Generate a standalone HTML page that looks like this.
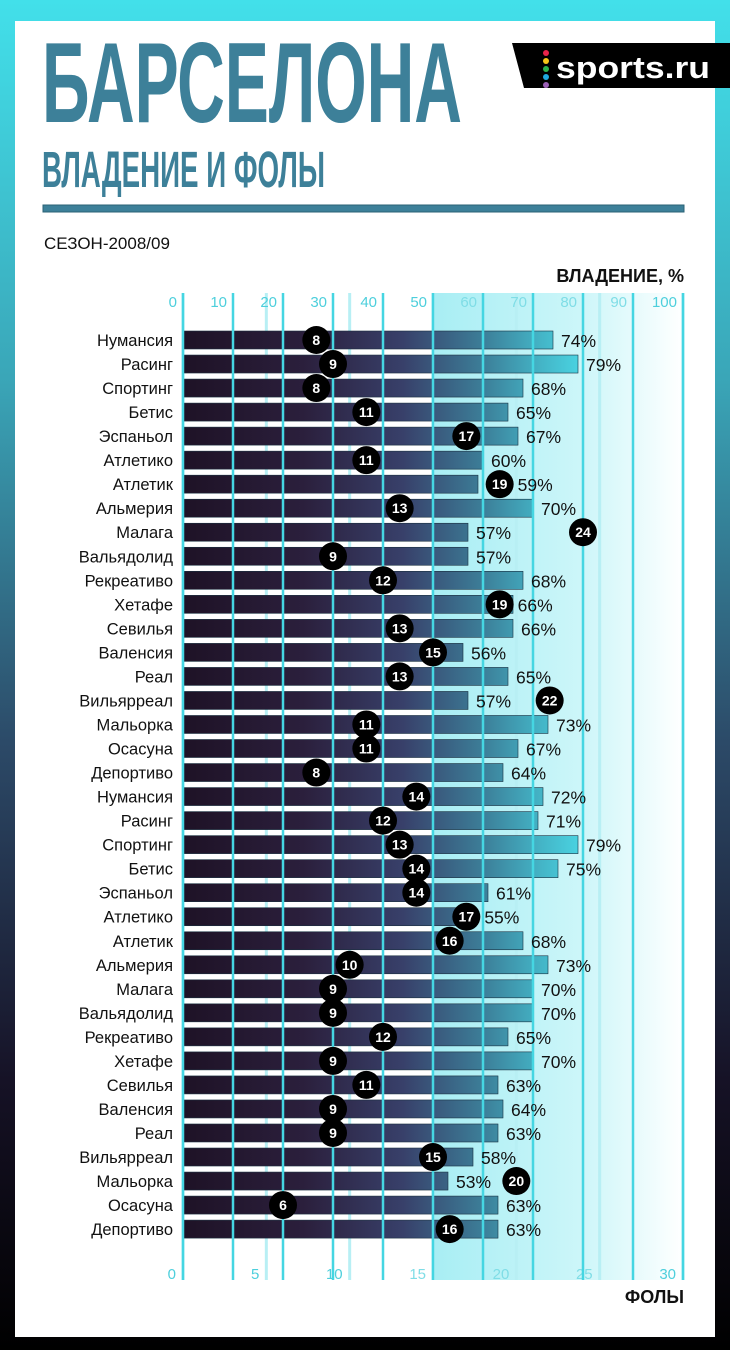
<!DOCTYPE html>
<html><head><meta charset="utf-8">
<style>
html,body{margin:0;padding:0}
body{width:730px;height:1350px;position:relative;overflow:hidden;background:linear-gradient(180deg,#42e0ea 0%,#3aa6b8 28%,#2c4a68 55%,#161226 80%,#000 100%);font-family:"Liberation Sans","DejaVu Sans",sans-serif}
#card{position:absolute;left:15px;top:21px;width:700px;height:1316px;background:#fff}
svg{position:absolute;left:0;top:0}
</style></head>
<body>
<div id="card"></div>
<svg id="chart" width="730" height="1350">
<defs>
<linearGradient id="barGrad" gradientUnits="userSpaceOnUse" x1="183" y1="0" x2="583" y2="0">
<stop offset="0" stop-color="#1e1226"/>
<stop offset="0.3" stop-color="#2b1f3c"/>
<stop offset="0.55" stop-color="#38406a"/>
<stop offset="0.75" stop-color="#3c7e98"/>
<stop offset="0.9" stop-color="#44b6c8"/>
<stop offset="1" stop-color="#4ad6e4"/>
</linearGradient>
<linearGradient id="shade" x1="0" y1="0" x2="1" y2="0">
<stop offset="0" stop-color="#a8eef4"/>
<stop offset="0.6" stop-color="#cdf6f9"/>
<stop offset="1" stop-color="#ffffff"/>
</linearGradient>
</defs>
<g>
<text x="42" y="122" font-size="114" font-weight="bold" fill="#3d8099" textLength="420" lengthAdjust="spacingAndGlyphs">БАРСЕЛОНА</text>
<text x="42" y="187" font-size="51" font-weight="bold" fill="#3d8099" textLength="283" lengthAdjust="spacingAndGlyphs">ВЛАДЕНИЕ И ФОЛЫ</text>
<rect x="43" y="205" width="641" height="7" fill="#3d8099" stroke="#2a6275" stroke-width="1"/>
<text x="44" y="249" font-size="17" fill="#111">СЕЗОН-2008/09</text>
<g>
<polygon points="512,43 730,43 730,88 524,88" fill="#000"/>
<circle cx="546" cy="53" r="3" fill="#e8234a"/>
<circle cx="546" cy="61" r="3" fill="#f5c518"/>
<circle cx="546" cy="69" r="3" fill="#2bb24c"/>
<circle cx="546" cy="77" r="3" fill="#1fa8e0"/>
<circle cx="546" cy="85" r="3" fill="#9a5fb5"/>
<text x="556" y="78" font-size="31" font-weight="bold" fill="#fff" textLength="154" lengthAdjust="spacingAndGlyphs">sports.ru</text>
</g>
</g>
<rect x="433" y="293" width="250" height="987" fill="url(#shade)"/>
<g id="grid"></g>
<g id="bars"></g>
<g id="vlines"></g>
<g id="marks"></g>
<text x="684" y="282" font-size="18" font-weight="bold" text-anchor="end" fill="#111">ВЛАДЕНИЕ, %</text>
<text x="684" y="1303" font-size="18" font-weight="bold" text-anchor="end" fill="#111">ФОЛЫ</text>
</svg>
<script>
const teams=["Нумансия","Расинг","Спортинг","Бетис","Эспаньол","Атлетико","Атлетик","Альмерия","Малага","Вальядолид","Рекреативо","Хетафе","Севилья","Валенсия","Реал","Вильярреал","Мальорка","Осасуна","Депортиво","Нумансия","Расинг","Спортинг","Бетис","Эспаньол","Атлетико","Атлетик","Альмерия","Малага","Вальядолид","Рекреативо","Хетафе","Севилья","Валенсия","Реал","Вильярреал","Мальорка","Осасуна","Депортиво"];
const possession=[74,79,68,65,67,60,59,70,57,57,68,66,66,56,65,57,73,67,64,72,71,79,75,61,55,68,73,70,70,65,70,63,64,63,58,53,63,63];
const fouls=[8,9,8,11,17,11,19,13,24,9,12,19,13,15,13,22,11,11,8,14,12,13,14,14,17,16,10,9,9,12,9,11,9,9,15,20,6,16];
const possTicks=[0,10,20,30,40,50,60,70,80,90,100];
const foulTicks=[0,5,10,15,20,25,30];

const NS="http://www.w3.org/2000/svg";
const X0=183,W=500,Y0=340,STEP=24.03,BH=18;
const xP=v=>X0+v/100*W;
const xF=v=>X0+v/30*W;
const yR=i=>Y0+i*STEP;
function mk(tag,attrs,parent){const e=document.createElementNS(NS,tag);for(const k in attrs)e.setAttribute(k,attrs[k]);parent.appendChild(e);return e;}
const grid=document.getElementById('grid'),bars=document.getElementById('bars'),vl=document.getElementById('vlines'),marks=document.getElementById('marks');
foulTicks.forEach(t=>{
  const x=xF(t);
  const l=mk('line',{x1:x,x2:x,y1:293,y2:1280,stroke:'#b8eff4','stroke-width':3},grid);
  
  
  const tx=mk('text',{x:x-7,y:1279,'font-size':15,'text-anchor':'end',fill:t>=15&&t<30?'#7fdde6':'#4dcfdc'},grid);
  tx.textContent=t;
  
  
});
possTicks.forEach(t=>{
  const x=xP(t);
  const tx=mk('text',{x:x-6,y:307,'font-size':15,'text-anchor':'end',fill:t>50&&t<100?'#7fdde6':'#4dcfdc'},grid);
  tx.textContent=t;
  
  
});
teams.forEach((n,i)=>{
  const y=yR(i);
  const lab=mk('text',{x:173,y:y+6,'font-size':16.5,'text-anchor':'end',fill:'#111'},bars);
  lab.textContent=n;
  
  
  const r=mk('rect',{x:X0,y:y-BH/2,width:xP(possession[i])-X0,height:BH,fill:'url(#barGrad)',stroke:'#1a3040','stroke-width':0.6},bars);
  
  
});
possTicks.forEach(t=>{
  const x=xP(t);
  const l=mk('line',{x1:x,x2:x,y1:293,y2:1280,stroke:'#45d6e2','stroke-width':2.5},vl);
  
  
});
teams.forEach((n,i)=>{
  const y=yR(i),be=xP(possession[i]),cx=xF(fouls[i]);
  const c=mk('circle',{cx:cx,cy:y,r:14,fill:'#000'},marks);
  
  
  const ct=mk('text',{x:cx,y:y+5,'font-size':14,'font-weight':'bold','text-anchor':'middle',fill:'#fff'},marks);
  ct.textContent=fouls[i];
  
  
  let lx=be+8;
  if(cx-14<be+44&&cx+14>be-6) lx=Math.max(be,cx+14)+4;
  const pt=mk('text',{x:lx,y:y+7,'font-size':17.5,fill:'#111'},marks);
  pt.textContent=possession[i]+'%';
  
  
});
</script>
</body></html>
